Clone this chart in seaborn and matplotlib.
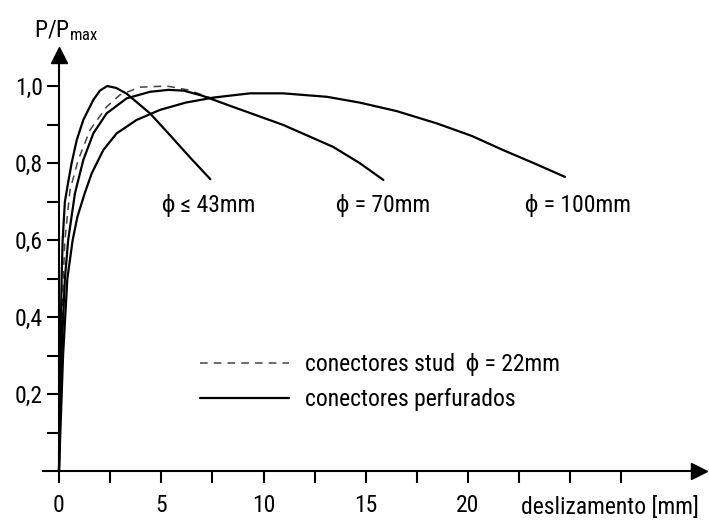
import numpy as np
import pandas as pd
import matplotlib
matplotlib.use("Agg")
import matplotlib.pyplot as plt
import seaborn as sns

# curves: slip [mm] vs P/Pmax
x_43 = [0, 0.07, 0.13, 0.18, 0.29, 0.45, 0.62, 0.87, 1.19, 1.68, 2.0, 2.36, 2.8, 3.31, 4.45, 5.35, 6.4, 7.4]
y_43 = [0, 0.3, 0.5, 0.6, 0.7, 0.75, 0.8, 0.86, 0.912, 0.964, 0.988, 1.0, 0.995, 0.98, 0.929, 0.877, 0.815, 0.758]

x_stud = [0, 0.1, 0.21, 0.29, 0.54, 0.94, 1.52, 2.33, 2.98, 3.96, 5.27, 6.3, 7.6]
y_stud = [0, 0.3, 0.5, 0.6, 0.73, 0.808, 0.886, 0.946, 0.977, 0.997, 1.0, 0.99, 0.966]

x_70 = [0, 0.12, 0.29, 0.45, 0.78, 1.19, 1.68, 2.33, 3.31, 4.45, 5.35, 6.1, 7.0, 8.5, 10.96, 13.4, 14.7, 15.86]
y_70 = [0, 0.3, 0.5, 0.6, 0.721, 0.808, 0.877, 0.929, 0.968, 0.985, 0.99, 0.988, 0.975, 0.946, 0.899, 0.842, 0.8, 0.756]

x_100 = [0, 0.2, 0.41, 0.67, 0.9, 1.25, 1.6, 2.17, 2.82, 3.8, 4.94, 6.2, 7.55, 9.34, 10.96, 13.1, 14.7, 16.5, 18.47, 20.2, 21.7, 23.2, 24.74]
y_100 = [0, 0.3, 0.5, 0.6, 0.66, 0.72, 0.773, 0.834, 0.877, 0.912, 0.938, 0.957, 0.97, 0.981, 0.981, 0.972, 0.957, 0.935, 0.903, 0.87, 0.834, 0.8, 0.764]

curve_labels = ["\u03d5 \u2264 43mm", "\u03d5 = 70mm", "\u03d5 = 100mm"]
label_x = [7.33, 15.84, 25.4]
label_y = [0.69, 0.69, 0.69]

x_ticks = [0, 2.5, 5, 7.5, 10, 12.5, 15, 17.5, 20, 22.5, 25, 27.5]
x_ticklabels = ["0", "", "5", "", "10", "", "15", "", "20", "", "", ""]
y_ticks = [0.1, 0.2, 0.3, 0.4, 0.5, 0.6, 0.7, 0.8, 0.9, 1.0]
y_ticklabels = ["", "0,2", "", "0,4", "", "0,6", "", "0,8", "", "1,0"]

sns.set_style("white")
fonts = ["Roboto Condensed", "Liberation Sans Narrow", "Liberation Sans", "DejaVu Sans"]
plt.rcParams["font.family"] = fonts
plt.rcParams["mathtext.fontset"] = "custom"
plt.rcParams["mathtext.rm"] = "Roboto Condensed"
fs = 17
for k in ["text.color", "xtick.color", "ytick.color", "axes.labelcolor", "axes.edgecolor"]:
    plt.rcParams[k] = "black"

fig = plt.figure(figsize=(7.09, 5.20), dpi=100)
ax = fig.add_axes([0.0601, 0.0942, 0.926, 0.7996])

solid = dict(color="black", linewidth=1.6, sort=False, estimator=None)
sns.lineplot(x=x_stud, y=y_stud, ax=ax, color="#444444", linewidth=1.1,
             linestyle=(0, (5, 4)), sort=False, estimator=None,
             label="conectores stud  \u03d5 = 22mm")
sns.lineplot(x=x_43, y=y_43, ax=ax, label="conectores perfurados", **solid)
sns.lineplot(x=x_70, y=y_70, ax=ax, **solid)
sns.lineplot(x=x_100, y=y_100, ax=ax, **solid)

for t, lx, ly in zip(curve_labels, label_x, label_y):
    ax.text(lx, ly, t, ha="center", va="center", fontsize=fs)

ax.set_xlim(-0.8, 31.3)
ax.set_ylim(0, 1.08)

# axes as arrows crossing at the origin
for s in ["top", "right"]:
    ax.spines[s].set_visible(False)
ax.spines["left"].set_position(("data", 0))
ax.spines["left"].set_linewidth(1.5)
ax.spines["bottom"].set_linewidth(1.5)
ax.plot(1, 0, ">", color="black", markersize=11, transform=ax.get_yaxis_transform(), clip_on=False)
ax.plot(0, 1, "^", color="black", markersize=11, transform=ax.get_xaxis_transform(), clip_on=False)

ax.set_xticks(x_ticks)
ax.set_xticklabels(x_ticklabels)
ax.set_yticks(y_ticks)
ax.set_yticklabels(y_ticklabels)
ax.tick_params(axis="x", direction="out", length=8.5, width=1.5, pad=8, labelsize=fs, bottom=True)
ax.tick_params(axis="y", direction="out", length=8.5, width=1.5, pad=3, labelsize=fs, left=True)

ax.set_xlabel("")
ax.set_ylabel("")
ax.text(31.3, -0.096, "deslizamento [mm]", ha="right", va="center", fontsize=fs)
ax.text(-1.2, 1.143, r"$\mathrm{P/P_{max}}$", ha="left", va="center", fontsize=fs)

h, l = ax.get_legend_handles_labels()
ax.legend(h, l, loc="upper left", bbox_to_anchor=(0.221, 0.312), frameon=False,
          borderpad=0, handlelength=3.8, handletextpad=0.68, labelspacing=0.5, fontsize=fs)

fig.savefig("out.png", dpi=100)
